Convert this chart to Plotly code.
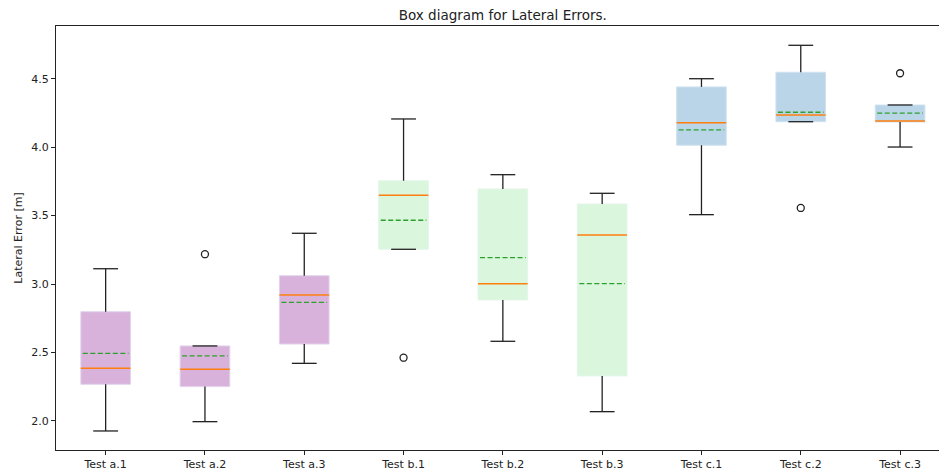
import plotly.graph_objects as go

labels = ["Test a.1", "Test a.2", "Test a.3", "Test b.1", "Test b.2", "Test b.3",
          "Test c.1", "Test c.2", "Test c.3"]
groups = ["a", "a", "a", "b", "b", "b", "c", "c", "c"]
q1 = [2.268, 2.251, 2.562, 3.254, 2.884, 2.329, 4.014, 4.186, 4.184]
median = [2.385, 2.378, 2.920, 3.649, 3.003, 3.359, 4.179, 4.235, 4.191]
q3 = [2.798, 2.548, 3.061, 3.755, 3.695, 3.585, 4.440, 4.547, 4.308]
mean = [2.494, 2.475, 2.867, 3.466, 3.193, 3.003, 4.126, 4.255, 4.248]
whisk_lo = [1.927, 1.995, 2.421, 3.254, 2.582, 2.068, 3.507, 4.186, 4.001]
whisk_hi = [3.112, 2.548, 3.371, 4.206, 3.799, 3.663, 4.500, 4.744, 4.308]
outlier_idx = [1, 3, 7, 8]
outlier_val = [3.218, 2.462, 3.556, 4.540]

group_colors = {"a": "#D8B2DA", "b": "#DAF7DD", "c": "#BBD5E8"}
edge_colors = {"a": "#E2D2EC", "b": "#E4F5EA", "c": "#CFE2F0"}

BOX_HALF = 0.25
CAP_HALF = 0.125

pos = [i + 1 for i in range(len(labels))]

fig = go.Figure()

# boxes
for g in ["a", "b", "c"]:
    xs, ys = [], []
    for p, gg, lo, hi in zip(pos, groups, q1, q3):
        if gg != g:
            continue
        xs += [p - BOX_HALF, p + BOX_HALF, p + BOX_HALF, p - BOX_HALF, p - BOX_HALF, None]
        ys += [lo, lo, hi, hi, lo, None]
    fig.add_trace(go.Scatter(x=xs, y=ys, mode="lines", fill="toself",
                             fillcolor=group_colors[g],
                             line=dict(color=edge_colors[g], width=1),
                             hoverinfo="skip", showlegend=False))

# whiskers and caps
wx, wy = [], []
for p, lo, hi, b_lo, b_hi in zip(pos, whisk_lo, whisk_hi, q1, q3):
    wx += [p, p, None, p, p, None]
    wy += [b_lo, lo, None, b_hi, hi, None]
    wx += [p - CAP_HALF, p + CAP_HALF, None, p - CAP_HALF, p + CAP_HALF, None]
    wy += [lo, lo, None, hi, hi, None]
fig.add_trace(go.Scatter(x=wx, y=wy, mode="lines", line=dict(color="#222222", width=1.3),
                         hoverinfo="skip", showlegend=False))

# medians
mx, my = [], []
for p, m in zip(pos, median):
    mx += [p - BOX_HALF, p + BOX_HALF, None]
    my += [m, m, None]
fig.add_trace(go.Scatter(x=mx, y=my, mode="lines", line=dict(color="#FF7F0E", width=1.5),
                         hoverinfo="skip", showlegend=False))

# means
ax_, ay_ = [], []
for p, m in zip(pos, mean):
    ax_ += [p - BOX_HALF + 0.02, p + BOX_HALF - 0.02, None]
    ay_ += [m, m, None]
fig.add_trace(go.Scatter(x=ax_, y=ay_, mode="lines",
                         line=dict(color="#2CA02C", width=1.3, dash="5px,2.5px"),
                         hoverinfo="skip", showlegend=False))

# outliers
fig.add_trace(go.Scatter(x=[pos[i] for i in outlier_idx], y=outlier_val, mode="markers",
                         marker=dict(symbol="circle-open", size=7, color="#222222",
                                     line=dict(width=1.3)),
                         hoverinfo="skip", showlegend=False))

fig.update_layout(
    width=939, height=473,
    margin=dict(l=56, r=0, t=26, b=23),
    paper_bgcolor="white", plot_bgcolor="white",
    font=dict(family="DejaVu Sans", size=11, color="#222222"),
    title=dict(text="Box diagram for Lateral Errors.", font=dict(size=13.5, color="#222222"),
               x=0.506, xanchor="center", y=0.968, yanchor="middle", xref="paper"),
    xaxis=dict(range=[0.5, 9.392], tickmode="array", tickvals=pos, ticktext=labels,
               showline=True, linecolor="#222222", linewidth=1.3, mirror=True,
               ticks="outside", ticklen=4, tickcolor="#222222", showgrid=False,
               zeroline=False),
    yaxis=dict(range=[1.788, 4.885], tickmode="array",
               tickvals=[2.0, 2.5, 3.0, 3.5, 4.0, 4.5],
               ticktext=["2.0", "2.5", "3.0", "3.5", "4.0", "4.5"],
               showline=True, linecolor="#222222", linewidth=1.3, mirror=False,
               ticks="outside", ticklen=4, tickcolor="#222222", showgrid=False,
               zeroline=False,
               title=dict(text="Lateral Error [m]", font=dict(size=11), standoff=6)),
)

fig.write_html("out.html")
